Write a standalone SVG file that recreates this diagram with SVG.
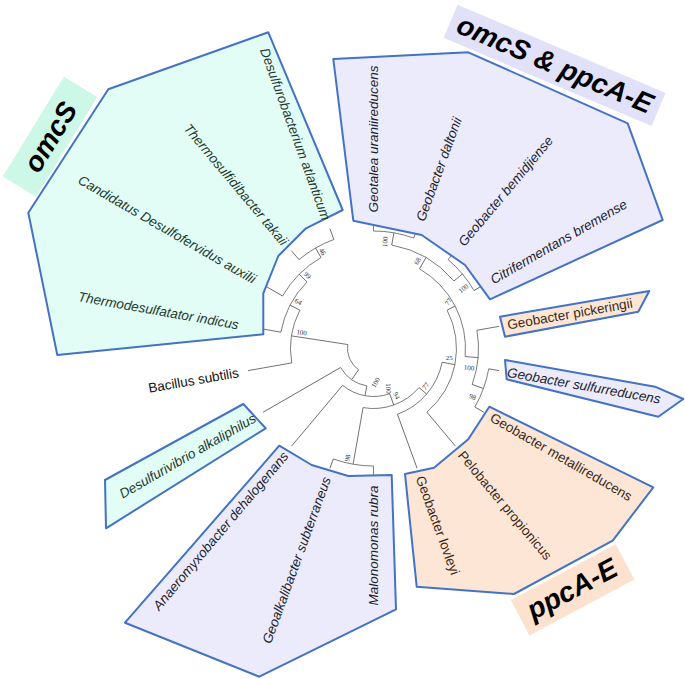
<svg xmlns="http://www.w3.org/2000/svg" width="685" height="679" viewBox="0 0 685 679">
<style>
.t{fill:none;stroke:#5a5a5a;stroke-width:0.8}
.bs{font-family:"Liberation Serif","Times New Roman",serif;font-size:7px;fill:#333;text-anchor:middle}
.sp{font-family:"Liberation Sans",Arial,sans-serif;font-size:13.5px}
.it{font-style:italic}
.end{text-anchor:end}
.cyt{fill:#1f3a2c}
.lvt{fill:#1e1e2c}
.ort{fill:#3a2816}
.cy{fill:#e2fcf6;stroke:#4472c4;stroke-width:2;stroke-linejoin:round}
.lv{fill:#ebebfc;stroke:#4472c4;stroke-width:2;stroke-linejoin:round}
.or{fill:#fde6d5;stroke:#4472c4;stroke-width:2;stroke-linejoin:round}
.big{font-family:"Liberation Sans",Arial,sans-serif;font-size:28px;font-weight:bold;font-style:italic;fill:#000;text-anchor:middle}
</style>
<rect width="685" height="679" fill="#fff"/>

<g id="connectors" class="t" transform="translate(373.5 348.5)">
  <!-- arcs -->
  <path d="M-74.56 -88.86A116 116 0 0 1 -39.67 -109.0"/>
  <path d="M-90.93 -52.5A105 105 0 0 1 -52.5 -90.93"/>
  <path d="M-92.57 -16.32A94 94 0 0 1 -66.47 -66.47"/>
  <path d="M-81.74 14.41A83 83 0 0 1 -73.62 -38.32"/>
  <path d="M0 -117.5A117.5 117.5 0 0 1 40.19 -110.41"/>
  <path d="M74.56 -88.86A116 116 0 0 1 100.46 -58"/>
  <path d="M18.23 -103.41A105 105 0 0 1 80.43 -67.49"/>
  <path d="M115.22 20.32A117 117 0 0 1 101.32 58.5"/>
  <path d="M103.40 -18.23A105 105 0 0 1 98.67 35.91"/>
  <path d="M46 -79.67A92 92 0 0 1 91.65 8.02"/>
  <path d="M73.62 -38.32A83 83 0 0 1 53.35 63.58"/>
  <path d="M68.66 13.66A70 70 0 0 1 23.94 65.78"/>
  <path d="M0 117.5A117.5 117.5 0 0 1 -40.19 110.41"/>
  <path d="M45.56 39.05A60 60 0 0 1 -10.42 59.09"/>
  <path d="M16.17 45.19A48 48 0 0 1 -30.85 36.77"/>
  <path d="M-6.70 37.40A38 38 0 0 1 -32.91 19"/>
  <path d="M-14.94 21.28A26 26 0 0 1 -25.70 -3.96"/>
  <!-- leaves -->
  <path d="M117.5 0H127.5" transform="rotate(-90)"/>
  <path d="M117.5 0H127.5" transform="rotate(-70)"/>
  <path d="M116 0H127.5" transform="rotate(-50)"/>
  <path d="M116 0H127.5" transform="rotate(-30)"/>
  <path d="M105 0H127.5" transform="rotate(-10)"/>
  <path d="M117 0H127.5" transform="rotate(10)"/>
  <path d="M117 0H127.5" transform="rotate(30)"/>
  <path d="M83 0H127.5" transform="rotate(50)"/>
  <path d="M70 0H127.5" transform="rotate(70)"/>
  <path d="M117.5 0H127.5" transform="rotate(90)"/>
  <path d="M117.5 0H127.5" transform="rotate(110)"/>
  <path d="M48 0H127.5" transform="rotate(130)"/>
  <path d="M38 0H127.5" transform="rotate(150)"/>
  <path d="M83 0H127.5" transform="rotate(170)"/>
  <path d="M94 0H127.5" transform="rotate(190)"/>
  <path d="M105 0H127.5" transform="rotate(210)"/>
  <path d="M116 0H127.5" transform="rotate(230)"/>
  <path d="M116 0H127.5" transform="rotate(250)"/>
  <!-- internal stems -->
  <path d="M105 0H116" transform="rotate(240)"/>
  <path d="M94 0H105" transform="rotate(225)"/>
  <path d="M83 0H94" transform="rotate(207.5)"/>
  <path d="M26 0H83" transform="rotate(188.75)"/>
  <path d="M105 0H117.5" transform="rotate(-80)"/>
  <path d="M105 0H116" transform="rotate(-40)"/>
  <path d="M92 0H105" transform="rotate(-60)"/>
  <path d="M105 0H117" transform="rotate(20)"/>
  <path d="M92 0H105" transform="rotate(5)"/>
  <path d="M83 0H92" transform="rotate(-27.5)"/>
  <path d="M70 0H83" transform="rotate(11.25)"/>
  <path d="M60 0H70" transform="rotate(40.625)"/>
  <path d="M60 0H117.5" transform="rotate(100)"/>
  <path d="M48 0H60" transform="rotate(70.3125)"/>
  <path d="M38 0H48" transform="rotate(100.156)"/>
  <path d="M26 0H38" transform="rotate(125.078)"/>
</g>

<g id="bootstrap">
  <text class="bs" transform="translate(322.5 251.5) rotate(60)" dy="0.35em">46</text>
  <text class="bs" transform="translate(307.5 275) rotate(45)" dy="0.35em">99</text>
  <text class="bs" transform="translate(298.3 301.7) rotate(28)" dy="0.35em">64</text>
  <text class="bs" transform="translate(301.7 332.3) rotate(9)" dy="0.35em">100</text>
  <text class="bs" transform="translate(385 241.7) rotate(-85)" dy="0.35em">100</text>
  <text class="bs" transform="translate(417.5 261) rotate(-60)" dy="0.35em">68</text>
  <text class="bs" transform="translate(463.3 288.3) rotate(-38)" dy="0.35em">100</text>
  <text class="bs" transform="translate(448.3 301.7) rotate(-55)" dy="0.35em">77</text>
  <text class="bs" transform="translate(449.3 357.3)" dy="0.35em">25</text>
  <text class="bs" transform="translate(469 367.7) rotate(8)" dy="0.35em">100</text>
  <text class="bs" transform="translate(472.7 396.7) rotate(22)" dy="0.35em">98</text>
  <text class="bs" transform="translate(425.7 386) rotate(-50)" dy="0.35em">77</text>
  <text class="bs" transform="translate(396.7 395.5) rotate(62)" dy="0.35em">94</text>
  <text class="bs" transform="translate(388.6 388.5) rotate(88)" dy="0.35em">100</text>
  <text class="bs" transform="translate(375.5 382.5) rotate(-60)" dy="0.35em">100</text>
  <text class="bs" transform="translate(347.5 458) rotate(-80)" dy="0.35em">98</text>
</g>

<g id="clade-omcS">
  <polygon class="cy" points="268.3,32.3 342.7,210 306,228.3 278.3,256 263.3,293.3 263.3,334.3 57.3,355 28.3,212.7 108.3,89.3"/>
</g>
<g id="clade-both">
  <polygon class="lv" points="333.3,59 468.3,52.3 627.7,123.3 662.7,220 490,299.3 465,265 421.7,235 353.3,220.7"/>
</g>
<g id="clade-pickeringii">
  <polygon class="or" points="500,316.7 649.3,291 638.3,311.7 505,336.7"/>
</g>
<g id="clade-sulfurreducens">
  <polygon class="lv" points="505,360 655,386.7 683.3,399 658.3,416.7 506.7,379.3"/>
</g>
<g id="clade-ppcA">
  <polygon class="or" points="489.3,406.7 653.3,487.3 612.7,540.7 514,594 416.7,586.7 405,474 434,467.7 468.3,439.3"/>
</g>
<g id="clade-desulfurivibrio">
  <polygon class="cy" points="243.3,404 265.7,428.3 106,528.3 105,480"/>
</g>
<g id="clade-bottom">
  <polygon class="lv" points="279.3,445.7 311.7,465 348.3,476 391.7,475 396,609.3 259.3,676.7 125,622.7"/>
</g>

<g id="tips" transform="translate(373.5 348.5)">
  <g id="geotalea"><text class="sp it lvt" transform="rotate(-90)" x="136" dy="0.35em">Geotalea uraniireducens</text></g>
  <g id="daltonii"><text class="sp it lvt" transform="rotate(-70)" x="136" dy="0.35em">Geobacter daltonii</text></g>
  <g id="bemidjiense"><text class="sp it lvt" transform="rotate(-50)" x="136" dy="0.35em">Geobacter bemidjiense</text></g>
  <g id="citrifermentans"><text class="sp it lvt" transform="rotate(-30)" x="136" dy="0.35em">Citrifermentans bremense</text></g>
  <g id="pickeringii"><text class="sp ort" transform="rotate(-10)" x="136" dy="0.35em">Geobacter pickeringii</text></g>
  <g id="sulfurreducens"><text class="sp it lvt" transform="rotate(10)" x="136" dy="0.35em">Geobacter sulfurreducens</text></g>
  <g id="metallireducens"><text class="sp ort" transform="rotate(30)" x="136" dy="0.35em">Geobacter metallireducens</text></g>
  <g id="pelobacter"><text class="sp ort" transform="rotate(50)" x="136" dy="0.35em">Pelobacter propionicus</text></g>
  <g id="lovleyi"><text class="sp ort" transform="rotate(70)" x="136" dy="0.35em">Geobacter lovleyi</text></g>
  <g id="malonomonas"><text class="sp it lvt end" transform="rotate(-90)" x="-137" dy="0.35em">Malonomonas rubra</text></g>
  <g id="geoalkalibacter"><text class="sp it lvt end" transform="rotate(-70)" x="-137" dy="0.35em">Geoalkalibacter subterraneus</text></g>
  <g id="anaeromyxobacter"><text class="sp it lvt end" transform="rotate(-50)" x="-137" dy="0.35em">Anaeromyxobacter dehalogenans</text></g>
  <g id="desulfurivibrio"><text class="sp it cyt end" transform="rotate(-30)" x="-137" dy="0.35em">Desulfurivibrio alkaliphilus</text></g>
  <g id="bacillus"><text class="sp end" fill="#111" transform="rotate(-10)" x="-137" dy="0.35em">Bacillus subtilis</text></g>
  <g id="thermodesulfatator"><text class="sp it cyt end" transform="rotate(10)" x="-137" dy="0.35em">Thermodesulfatator indicus</text></g>
  <g id="candidatus"><text class="sp it cyt end" transform="rotate(30)" x="-137" dy="0.35em">Candidatus Desulfofervidus auxilii</text></g>
  <g id="thermosulfidibacter"><text class="sp it cyt end" transform="rotate(50)" x="-137" dy="0.35em">Thermosulfidibacter takaii</text></g>
  <g id="desulfurobacterium"><text class="sp it cyt end" transform="rotate(70)" x="-137" dy="0.35em">Desulfurobacterium atlanticum</text></g>
</g>

<g id="label-omcS" transform="translate(50 136.8) rotate(-58.5)">
  <rect x="-58.5" y="-19.5" width="117" height="39" fill="#cdf7e6"/>
  <text class="big" dy="0.35em">omcS</text>
</g>
<g id="label-both" transform="translate(554.6 65.4) rotate(23)">
  <rect x="-113" y="-18" width="226" height="36" fill="#e1e1f9"/>
  <text class="big" dy="0.3em">omcS &amp; ppcA-E</text>
</g>
<g id="label-ppcA" transform="translate(572.6 589.8) rotate(-28)">
  <rect x="-59.5" y="-20" width="119" height="40" fill="#fde3cf"/>
  <text class="big" dy="0.3em">ppcA-E</text>
</g>
</svg>
